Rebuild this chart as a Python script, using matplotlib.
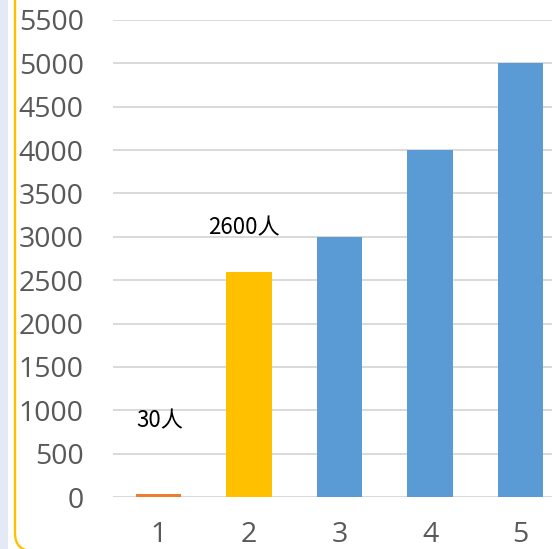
import matplotlib.pyplot as plt
import matplotlib.patches as mpatches
from matplotlib.transforms import IdentityTransform

categories = ["1", "2", "3", "4", "5"]
values = [30, 2600, 3000, 4000, 5000]
bar_colors = ["#ED7D31", "#FFC000", "#5B9BD5", "#5B9BD5", "#5B9BD5"]
yticks = list(range(0, 5501, 500))
# callouts: (bar index, text, shift in px (dx, dy) from bar top)
callouts = [(0, "30人", (2, 74)), (1, "2600人", (-5, 44))]

W, H = 552, 549
fig = plt.figure(figsize=(W / 100, H / 100), dpi=100)
fig.patch.set_facecolor("white")

# side strip and rounded frame
fig.add_artist(mpatches.Rectangle((0, 0), 8, H, transform=IdentityTransform(),
                                  facecolor="#E3E9F5", edgecolor="none"))
fig.add_artist(mpatches.FancyBboxPatch((15, -2), 550, 700,
                                       boxstyle="round,pad=0,rounding_size=18",
                                       transform=IdentityTransform(),
                                       facecolor="none", edgecolor="#FFC000", linewidth=1.7))

left, right = 113, 566
bottom, top = H - 497, H - 20
ax = fig.add_axes([left / W, bottom / H, (right - left) / W, (top - bottom) / H])
ax.set_facecolor("none")

x = list(range(len(categories)))
ax.bar(x, values, width=0.5, color=bar_colors, zorder=3)
ax.set_xlim(-0.5, len(categories) - 0.5)
ax.set_ylim(0, 5500)
ax.set_yticks(yticks)
ax.set_xticks(x)
ax.set_xticklabels(categories)
ax.yaxis.grid(True, color="#D9D9D9", linewidth=1.4, zorder=0)
ax.set_axisbelow(True)
for s in ax.spines.values():
    s.set_visible(False)
ax.axhline(0, color="#D9D9D9", linewidth=1.4, zorder=1)
ax.tick_params(axis="both", length=0, labelsize=20.5, labelcolor="#595959")
ax.tick_params(axis="y", pad=21)
ax.tick_params(axis="x", pad=17)
for lab in ax.get_xticklabels() + ax.get_yticklabels():
    lab.set_family("Open Sans")

for i, txt, (dx, dy) in callouts:
    ax.annotate(txt, (x[i], values[i]), xytext=(dx * 0.72, dy * 0.72), textcoords="offset points",
                ha="center", va="center", fontsize=16, color="black",
                family=["Noto Sans CJK SC", "DejaVu Sans"], annotation_clip=False)

fig.savefig("out.png", dpi=100)
